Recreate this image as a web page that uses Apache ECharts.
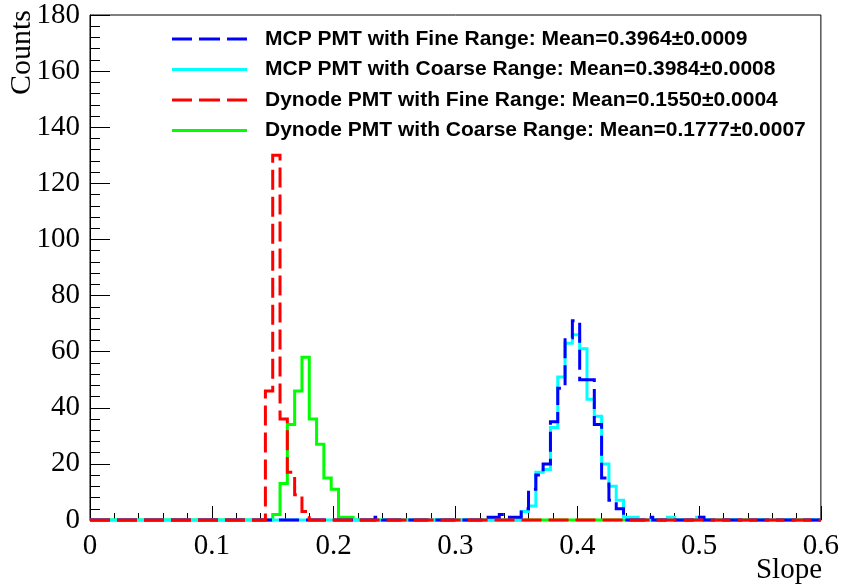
<!DOCTYPE html>
<html>
<head>
<meta charset="utf-8">
<script src="https://cdn.jsdelivr.net/npm/echarts@6/dist/echarts.min.js"></script>
<style>
  html, body { margin: 0; padding: 0; background: #ffffff; }
  #chart { width: 842px; height: 584px; }
</style>
</head>
<body>
<div id="chart"></div>
<script>
// Slope histograms: 100 bins of width 0.006 over [0, 0.6]
const binWidth = 0.006;

const seriesNames = [
  'MCP PMT with Fine Range: Mean=0.3964\u00b10.0009',
  'MCP PMT with Coarse Range: Mean=0.3984\u00b10.0008',
  'Dynode PMT with Fine Range: Mean=0.1550\u00b10.0004',
  'Dynode PMT with Coarse Range: Mean=0.1777\u00b10.0007'
];

// counts per bin
const mcpFine = [
  0, 0, 0, 0, 0, 0, 0, 0, 0, 0,
  0, 0, 0, 0, 0, 0, 0, 0, 0, 0,
  0, 0, 0, 0, 0, 0, 0, 0, 0, 0,
  0, 0, 0, 0, 0, 0, 0, 0, 0, 1,
  0, 0, 0, 0, 0, 0, 0, 0, 0, 0,
  0, 0, 0, 0, 1, 1, 2, 1, 1, 4,
  11, 16, 20, 35, 47, 65, 71, 50, 50, 34,
  15, 7, 4, 0, 0, 0, 1, 0, 0, 0,
  0, 0, 0, 1, 0, 0, 0, 0, 0, 0,
  0, 0, 0, 0, 0, 0, 0, 0, 0, 0
];
const mcpCoarse = [
  0, 0, 0, 0, 0, 0, 0, 0, 0, 0,
  0, 0, 0, 0, 0, 0, 0, 0, 0, 0,
  0, 0, 0, 0, 0, 0, 0, 0, 0, 0,
  0, 0, 0, 0, 0, 0, 0, 0, 0, 0,
  0, 0, 0, 0, 0, 0, 0, 0, 0, 0,
  0, 0, 0, 0, 0, 0, 0, 0, 0, 3,
  5, 17, 18, 33, 51, 63, 66, 61, 43, 37,
  20, 12, 7, 1, 1, 0, 0, 0, 0, 1,
  0, 0, 0, 1, 0, 0, 0, 0, 0, 0,
  0, 0, 0, 0, 0, 0, 0, 0, 0, 0
];
const dynodeFine = [
  0, 0, 0, 0, 0, 0, 0, 0, 0, 0,
  0, 0, 0, 0, 0, 0, 0, 0, 0, 0,
  0, 0, 0, 0, 46, 130, 36, 17, 9, 3,
  0, 0, 0, 0, 0, 0, 0, 0, 0, 0,
  0, 0, 0, 0, 0, 0, 0, 0, 0, 0,
  0, 0, 0, 0, 0, 0, 0, 0, 0, 0,
  0, 0, 0, 0, 0, 0, 0, 0, 0, 0,
  0, 0, 0, 0, 0, 0, 0, 0, 0, 0,
  0, 0, 0, 0, 0, 0, 0, 0, 0, 0,
  0, 0, 0, 0, 0, 0, 0, 0, 0, 0
];
const dynodeCoarse = [
  0, 0, 0, 0, 0, 0, 0, 0, 0, 0,
  0, 0, 0, 0, 0, 0, 0, 0, 0, 0,
  0, 0, 0, 0, 0, 2, 13, 34, 46, 58,
  36, 27, 15, 11, 1, 1, 0, 0, 0, 0,
  0, 0, 0, 0, 0, 0, 0, 0, 0, 0,
  0, 0, 0, 0, 0, 0, 0, 0, 0, 0,
  0, 0, 0, 0, 0, 0, 0, 0, 0, 0,
  0, 0, 0, 0, 0, 0, 0, 0, 0, 0,
  0, 0, 0, 0, 0, 0, 0, 0, 0, 0,
  0, 0, 0, 0, 0, 0, 0, 0, 0, 0
];

const xTickLabels = ['0', '0.1', '0.2', '0.3', '0.4', '0.5', '0.6'];
const yTickLabels = ['0', '20', '40', '60', '80', '100', '120', '140', '160', '180'];

// legend swatches: plain bar for solid lines, three dashes for dashed lines
const solidIcon = 'path://M0,0h75v3h-75z';
const dashedIcon = 'path://M0,0h20v3h-20z M27,0h21v3h-21z M55,0h20v3h-20z';

// step outline: each bin's count holds from its low edge to the next edge
function histPoints(counts) {
  const pts = counts.map((c, i) => [i * binWidth, c]);
  pts.push([counts.length * binWidth, counts[counts.length - 1]]);
  return pts;
}

function histSeries(name, counts, color, dashed) {
  return {
    name: name,
    type: 'line',
    step: 'end',
    data: histPoints(counts),
    symbol: 'none',
    showSymbol: false,
    clip: false,
    silent: true,
    itemStyle: { color: color },
    lineStyle: { color: color, width: 3, type: dashed ? [20, 7] : 'solid', cap: 'butt', join: 'miter' }
  };
}

const chart = echarts.init(document.getElementById('chart'), null, { renderer: 'canvas' });

const serifFont = '"Liberation Serif", "Times New Roman", serif';
const sansFont = '"Liberation Sans", Arial, Helvetica, sans-serif';

chart.setOption({
  animation: false,
  backgroundColor: '#ffffff',
  grid: {
    left: 90, right: 20, top: 15, bottom: 64,
    show: true, borderColor: '#000000', borderWidth: 1, backgroundColor: 'transparent'
  },
  legend: {
    orient: 'vertical',
    left: 172,
    top: 28,
    padding: 0,
    itemWidth: 75,
    itemHeight: 3,
    itemGap: 8.5,
    selectedMode: false,
    itemStyle: { borderWidth: 0 },
    data: [
      { name: seriesNames[0], icon: dashedIcon },
      { name: seriesNames[1], icon: solidIcon },
      { name: seriesNames[2], icon: dashedIcon },
      { name: seriesNames[3], icon: solidIcon }
    ],
    textStyle: {
      fontFamily: sansFont, fontWeight: 'bold', fontSize: 21, color: '#000000',
      lineHeight: 22, padding: [0, 0, 0, 13]
    }
  },
  xAxis: {
    type: 'value',
    min: 0, max: 0.6, interval: 0.1,
    axisLine: { show: true, onZero: false, lineStyle: { color: '#000000', width: 1 } },
    axisTick: { show: true, inside: true, length: 14, lineStyle: { color: '#000000', width: 1 } },
    minorTick: { show: true, splitNumber: 5, length: 7, lineStyle: { color: '#000000', width: 1 } },
    splitLine: { show: false },
    axisLabel: {
      margin: 12,
      fontFamily: serifFont, fontSize: 29, color: '#000000',
      formatter: v => xTickLabels[Math.round(v / 0.1)]
    }
  },
  yAxis: {
    type: 'value',
    min: 0, max: 180, interval: 20,
    axisLine: { show: true, onZero: false, lineStyle: { color: '#000000', width: 1 } },
    axisTick: { show: true, inside: true, length: 20, lineStyle: { color: '#000000', width: 1 } },
    minorTick: { show: true, splitNumber: 5, length: 10, lineStyle: { color: '#000000', width: 1 } },
    splitLine: { show: false },
    axisLabel: {
      margin: 10,
      fontFamily: serifFont, fontSize: 29, color: '#000000',
      formatter: v => yTickLabels[Math.round(v / 20)]
    }
  },
  graphic: [
    {
      type: 'text', x: 22, y: 10, rotation: Math.PI / 2,
      style: { text: 'Counts', font: '30px ' + serifFont, fill: '#000000', align: 'right', verticalAlign: 'middle' }
    },
    {
      type: 'text', x: 822, y: 570,
      style: { text: 'Slope', font: '29px ' + serifFont, fill: '#000000', align: 'right', verticalAlign: 'middle' }
    }
  ],
  // drawn bottom to top: dynode coarse, MCP coarse, MCP fine, dynode fine
  series: [
    histSeries(seriesNames[3], dynodeCoarse, '#00ff00', false),
    histSeries(seriesNames[1], mcpCoarse, '#00ffff', false),
    histSeries(seriesNames[0], mcpFine, '#0000ff', true),
    histSeries(seriesNames[2], dynodeFine, '#ff0000', true)
  ]
});
</script>
</body>
</html>
